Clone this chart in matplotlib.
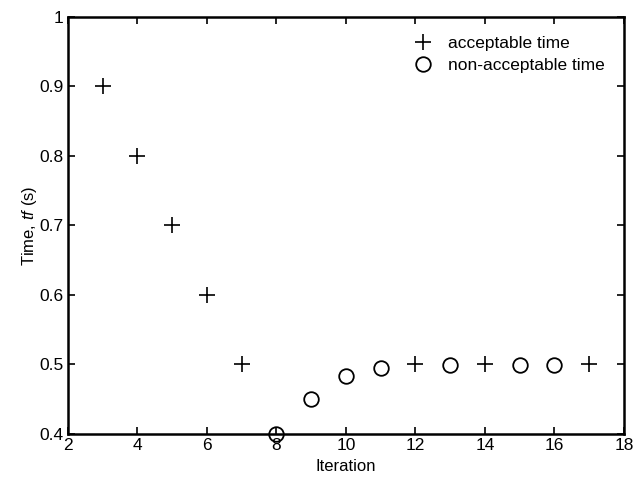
import matplotlib
matplotlib.use("Agg")
import matplotlib.pyplot as plt

plt.rcParams['font.family'] = ['Liberation Sans', 'DejaVu Sans']
plt.rcParams['mathtext.fontset'] = 'custom'
plt.rcParams['mathtext.it'] = 'Liberation Sans:italic'
plt.rcParams['mathtext.rm'] = 'Liberation Sans'

# datos
iter_ok = [3, 4, 5, 6, 7, 12, 14, 17]
tiempo_ok = [0.9, 0.8, 0.7, 0.6, 0.5, 0.5, 0.5, 0.5]
iter_no = [8, 9, 10, 11, 13, 15, 16]
tiempo_no = [0.4, 0.45, 0.483, 0.495, 0.499, 0.499, 0.499]

xticks = [2, 4, 6, 8, 10, 12, 14, 16, 18]
yticks = [0.4, 0.5, 0.6, 0.7, 0.8, 0.9, 1.0]
yetiq = ['0.4', '0.5', '0.6', '0.7', '0.8', '0.9', '1']

fig = plt.figure(figsize=(6.4, 4.79), dpi=100)
ax = fig.add_axes([0.106, 0.094, 0.869, 0.8705])

ax.plot(iter_ok, tiempo_ok, '+', color='black', markersize=11, mew=1.2,
        linestyle='none', label='acceptable time', clip_on=False)
ax.plot(iter_no, tiempo_no, 'o', color='black', markerfacecolor='none',
        markersize=10.5, mew=1.3, linestyle='none', label='non-acceptable time',
        clip_on=False)

ax.set_xlim(2, 18)
ax.set_ylim(0.4, 1)
ax.set_xticks(xticks)
ax.set_yticks(yticks)
ax.set_yticklabels(yetiq)
ax.tick_params(direction='in', top=True, right=True, labelsize=12.5,
               length=5, width=1.2, pad=3)
for s in ax.spines.values():
    s.set_linewidth(1.8)

ax.set_xlabel('Iteration', fontsize=12, labelpad=4)
ax.set_ylabel('Time, $tf$ (s)', fontsize=12, labelpad=0)

ax.legend(loc='upper right', frameon=False, fontsize=12.5, handletextpad=0.8,
          borderaxespad=0.7, labelspacing=0.4, handlelength=1.3,
          bbox_to_anchor=(1.0, 1.0))

fig.savefig('out.png', dpi=100)
